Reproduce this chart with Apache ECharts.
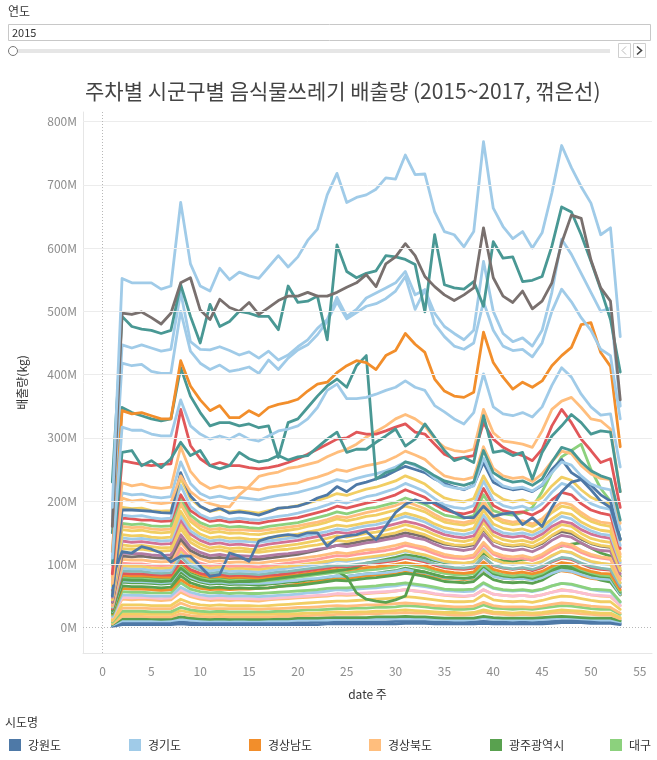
<!DOCTYPE html>
<html><head><meta charset="utf-8">
<script src="https://cdn.jsdelivr.net/npm/echarts@6/dist/echarts.min.js"></script>
<style>html,body{margin:0;padding:0;background:#fff}#c{width:657px;height:760px}</style>
</head><body><div id="c"></div>
<script>
const FONT = "'Noto Sans CJK KR','Noto Sans',sans-serif";
const titleText = '주차별 시군구별 음식물쓰레기 배출량 (2015~2017, 꺾은선)';
const weeks = [1,2,3,4,5,6,7,8,9,10,11,12,13,14,15,16,17,18,19,20,21,22,23,24,25,26,27,28,29,30,31,32,33,34,35,36,37,38,39,40,41,42,43,44,45,46,47,48,49,50,51,52,53];
const xTickLabels = [0,5,10,15,20,25,30,35,40,45,50,55];
const yTickLabels = [0,100,200,300,400,500,600,700,800];
const legendNames = ['강원도','경기도','경상남도','경상북도','광주광역시','대구'];
const legendColors = ['#4e79a7','#a0cbe8','#f28e2b','#ffbe7d','#59a14f','#8cd17d'];

// values in millions of kg, weeks 1..53
const gyeonggiTop = [190,552,545,545,545,535,540,672,575,540,532,568,550,562,556,552,570,588,570,586,612,630,684,718,672,680,684,693,711,709,747,716,717,657,626,621,602,626,768,663,634,615,626,600,624,687,762,727,697,671,621,632,460];
const greyTop = [160,497,495,499,490,480,497,545,553,502,487,519,506,500,514,495,506,517,524,524,530,524,524,530,538,545,558,539,575,586,607,588,555,539,526,517,526,537,632,553,524,514,532,504,516,545,608,652,647,581,537,516,360];
const tealTop = [230,492,476,472,470,465,470,542,492,450,511,476,484,500,497,492,492,471,540,514,516,524,455,605,563,553,560,564,588,586,582,574,499,621,542,537,535,547,508,610,584,586,547,549,555,603,665,657,621,579,535,487,404];
const gyeonggi2 = [175,447,442,447,442,437,440,530,452,440,439,444,438,431,436,426,437,423,431,444,455,473,487,522,492,503,521,529,537,545,563,526,534,497,476,465,455,470,579,500,465,452,458,445,470,530,614,590,560,530,500,505,350];
const gyeonggi3 = [170,418,414,416,405,402,402,500,437,418,408,415,405,408,412,402,423,408,426,439,447,463,484,515,488,498,508,512,520,532,555,503,534,480,460,445,440,450,515,470,445,438,440,428,450,500,535,515,490,470,440,430,330];
const gyeonggi4 = [110,317,312,312,306,303,303,360,319,306,298,303,298,306,298,295,303,311,314,319,330,348,375,385,362,362,364,369,375,380,390,380,375,351,341,330,322,340,401,349,338,335,340,333,349,383,411,396,369,349,336,338,254];
const gyeongnam1 = [120,343,338,340,335,330,330,422,382,360,343,351,332,332,343,335,348,353,356,361,374,385,388,403,414,422,419,408,430,438,465,448,435,393,374,366,364,372,467,419,396,377,388,380,390,414,430,443,479,482,435,413,286];
const teal2 = [150,348,340,335,330,327,330,411,366,340,319,324,324,319,322,316,319,269,324,330,348,366,382,393,380,414,430,235,245,250,262,258,250,240,232,228,225,230,280,245,235,230,232,225,235,262,285,280,262,248,240,235,170];
const teal3 = [100,277,280,256,264,253,267,293,272,280,256,251,256,277,267,262,265,272,265,270,272,285,298,309,277,282,282,293,303,314,287,298,322,301,280,264,269,261,335,277,280,272,277,235,277,303,319,337,324,306,311,309,215];
const red1 = [85,264,261,258,256,258,259,345,288,267,256,261,256,256,253,251,253,256,261,267,274,282,290,298,300,309,306,306,311,317,322,309,306,290,274,267,269,272,324,298,285,277,272,264,282,319,345,324,298,280,261,267,190];
const gyeongbuk1 = [70,205,200,202,198,196,198,240,215,203,196,192,191,210,223,239,243,246,252,254,258,262,270,277,282,290,301,310,319,330,337,330,319,298,285,280,278,282,345,308,295,293,290,285,311,345,358,364,348,330,327,314,215];
const gyeongbuk2 = [80,229,224,227,222,220,222,286,247,229,220,224,220,222,220,218,222,224,227,229,234,238,243,250,247,252,256,259,263,270,279,273,266,252,240,236,234,238,286,252,240,236,238,231,243,263,279,275,256,243,236,234,165];
const gyeonggi5 = [75,213,210,211,207,205,207,262,228,212,205,208,204,206,204,202,206,209,211,214,218,222,228,234,231,236,240,243,248,254,262,256,249,236,225,221,219,224,268,236,224,220,222,216,226,245,262,257,240,227,221,218,155];
const busan5 = [66,190,188,189,185,184,185,236,204,191,184,187,183,185,183,181,185,188,190,193,197,201,206,212,209,214,219,222,227,232,240,234,227,215,205,201,199,204,240,213,203,199,202,196,206,224,238,233,218,206,199,196,138];
const gangwon1 = [50,186,186,185,184,182,181,245,208,192,184,189,181,183,181,178,183,189,190,192,197,205,210,223,215,226,230,235,240,248,255,250,245,235,228,222,218,225,261,230,222,218,220,215,225,250,266,245,235,225,210,200,140];
const gyeonggi9 = [62,178,176,177,174,172,173,225,192,179,172,175,171,173,171,170,173,176,178,181,185,189,194,200,197,202,207,210,215,220,228,222,215,204,194,190,188,193,232,202,193,189,192,186,196,214,228,223,208,196,190,187,130];
const red2 = [60,173,172,170,170,168,169,210,185,175,168,170,167,168,166,165,168,170,172,174,178,182,186,192,189,193,197,200,205,210,218,212,206,195,186,182,180,184,220,193,185,182,183,178,186,202,214,210,196,186,181,178,125];
const daegu1 = [58,165,163,164,161,160,161,205,178,166,160,162,159,160,158,157,160,162,164,166,170,174,178,183,180,184,188,190,194,198,205,200,195,186,178,175,173,177,210,185,180,178,182,190,215,245,270,280,290,250,220,200,140];
const gyeongbuk5 = [56,160,158,159,156,155,156,198,172,161,155,157,154,155,154,153,155,157,159,161,164,167,171,176,174,178,182,185,189,193,199,194,188,179,171,168,166,170,200,178,170,167,169,164,172,187,198,194,182,172,167,165,116];
const busan1 = [54,155,153,154,151,150,151,195,168,156,150,152,149,150,148,147,150,152,154,156,160,163,167,172,169,172,176,178,182,186,192,188,183,174,167,164,162,166,196,174,166,163,165,160,168,182,192,189,177,168,163,160,112];
const busan2 = [52,147,145,146,143,142,143,184,159,148,142,144,141,142,140,139,142,144,146,148,151,154,158,162,160,163,166,168,172,176,181,177,172,164,158,155,153,157,186,164,157,154,156,151,159,172,182,179,167,159,154,152,106];
const gyeonggi10 = [50,142,140,141,139,137,138,177,153,143,137,139,136,137,136,135,137,139,141,143,146,149,152,156,154,158,161,163,167,171,176,172,167,159,152,149,147,151,178,157,150,148,150,146,153,166,176,172,161,153,148,146,103];
const jeju1 = [48,137,135,136,134,132,133,170,148,138,132,134,131,132,130,129,132,134,136,138,141,144,147,151,149,152,155,157,160,164,168,165,160,153,147,144,142,145,172,152,145,143,145,140,148,160,168,165,155,148,144,141,99];
const busan3 = [46,131,129,130,128,126,127,163,141,132,126,128,125,126,124,123,126,128,130,132,135,138,141,145,143,146,149,151,154,158,163,159,154,147,141,138,136,140,166,146,139,136,138,134,142,154,163,160,149,141,137,135,94];
const busan6 = [44,125,124,124,122,121,122,156,135,126,121,123,120,121,120,119,121,123,124,126,129,131,134,138,136,139,142,144,147,150,155,151,147,140,134,131,130,133,157,138,132,130,132,128,135,146,155,152,142,134,130,128,90];
const chungbuk1 = [41,118,117,117,115,114,115,147,127,119,114,116,113,114,113,112,114,116,117,119,121,124,126,130,128,131,134,136,139,142,146,142,139,132,126,124,122,125,148,130,124,122,124,120,127,138,146,143,134,126,122,121,85];
const jeonnam2 = [40,113,112,113,111,110,110,140,122,114,110,111,109,110,108,108,110,112,114,116,119,122,126,130,132,135,138,140,143,146,150,147,143,137,132,130,128,131,155,137,131,129,131,127,133,145,152,149,140,133,129,127,90];
const gyeongbuk6 = [38,108,107,107,105,104,105,135,117,109,104,106,103,104,103,102,104,106,107,109,111,113,116,119,117,120,123,124,127,130,134,130,127,121,116,113,112,115,135,119,114,112,114,110,116,126,134,131,122,116,112,110,78];
const incheon1 = [36,102,101,101,99,98,99,126,110,102,98,100,97,98,97,96,98,100,102,104,106,108,111,114,113,116,118,120,122,125,130,127,123,117,112,110,109,111,131,116,110,108,110,106,112,122,130,127,119,113,110,108,76];
const busan7 = [34,98,97,97,95,94,95,122,106,99,94,96,93,94,93,92,94,96,97,99,101,103,105,108,107,109,111,113,115,118,122,118,115,110,105,103,102,104,122,108,103,101,103,100,105,114,121,119,111,105,102,100,71];
const gyeonggi6 = [33,94,93,93,91,90,91,118,102,94,90,92,89,90,89,88,90,92,94,96,98,100,103,106,105,107,110,111,114,117,121,118,114,108,104,102,101,103,124,108,102,100,102,98,104,113,121,118,110,104,101,100,70];
const sejong1 = [32,90,89,89,87,86,87,112,97,91,86,88,85,86,85,84,86,88,89,91,93,95,97,99,98,100,102,104,106,108,112,109,106,101,97,95,94,96,112,99,95,93,95,92,97,105,111,109,102,97,94,92,65];
const red3 = [30,86,85,85,84,83,83,105,92,86,83,84,82,83,82,81,83,84,86,88,90,92,94,97,96,98,100,102,104,106,110,107,104,99,95,93,92,94,112,98,94,92,94,90,95,104,110,108,101,95,92,91,64];
const gyeongnam3 = [29,83,82,82,81,80,80,103,90,84,80,81,79,80,79,78,80,81,83,84,86,88,90,92,91,93,95,96,98,100,103,100,98,93,89,87,86,88,104,92,88,86,88,85,89,97,103,101,94,89,86,85,60];
const daegu2 = [28,78,77,77,76,75,76,96,84,78,75,76,74,75,74,73,75,76,78,80,82,84,86,88,87,89,91,92,94,96,100,97,94,89,86,84,83,85,100,88,84,82,84,81,86,95,102,100,92,87,83,82,58];
const gyeonggi11 = [26,74,73,73,72,71,72,92,80,74,71,72,70,71,70,70,71,72,74,75,77,78,80,82,81,83,85,86,87,89,92,89,87,83,79,78,77,79,92,81,78,77,78,75,79,86,91,89,84,79,77,76,53];
const gwangju1 = [25,72,71,71,70,69,70,88,77,72,69,70,68,69,68,67,69,70,72,73,75,77,79,82,81,83,85,86,88,90,94,91,88,83,80,78,77,79,95,83,79,77,79,76,80,88,95,93,86,81,78,77,54];
const gwangju2 = [28,80,79,79,78,77,78,98,86,80,77,78,76,77,76,75,77,78,80,82,84,86,88,90,80,55,45,42,40,44,50,90,88,84,80,79,78,80,98,86,82,80,81,78,83,92,98,96,89,84,81,80,56];
const gwangju3 = [23,66,65,65,64,63,64,82,71,66,63,64,62,63,62,62,63,65,66,67,69,71,73,75,74,76,78,79,81,83,86,84,81,77,73,72,71,73,86,76,72,71,72,70,75,84,92,96,90,82,75,72,52];
const gwangju4 = [27,76,75,75,74,73,74,94,82,76,73,74,72,73,73,74,76,78,80,82,84,86,88,90,92,95,102,105,108,111,115,113,110,106,103,102,101,104,118,108,106,105,108,108,114,124,129,132,134,126,118,113,81];
const gyeongnam2 = [22,62,61,61,60,59,60,76,66,62,60,61,60,61,61,62,63,65,67,69,71,73,75,77,78,80,82,83,84,85,88,86,84,80,78,77,76,78,92,82,78,77,78,76,80,86,90,88,82,78,76,75,52];
const daegu4 = [20,57,56,56,55,55,55,71,61,57,55,56,54,55,54,54,55,56,57,58,59,60,62,63,63,64,65,66,68,69,71,69,67,64,61,60,60,61,71,63,60,59,60,58,61,66,70,69,65,61,60,59,41];
const gyeonggi7 = [18,52,51,51,50,50,50,64,56,52,50,51,50,50,50,49,50,51,52,53,55,56,58,60,59,61,62,63,65,66,69,67,65,62,59,58,57,58,70,62,59,58,59,57,60,66,70,68,64,60,58,57,40];
const chungnam1 = [17,48,47,48,47,46,47,60,52,48,46,47,46,46,46,45,46,47,48,49,50,51,52,54,53,54,55,56,57,58,60,58,57,54,52,51,50,51,60,53,51,50,51,49,52,56,59,58,55,52,51,50,35];
const gyeongbuk4 = [16,45,44,45,44,43,44,56,49,45,43,44,43,44,43,42,44,45,46,47,48,49,50,52,51,52,54,55,56,58,60,58,56,53,51,50,49,51,60,53,51,50,51,49,52,56,60,58,55,52,50,49,35];
const busan4 = [13,36,36,36,35,35,35,45,39,36,35,36,35,35,35,34,35,36,37,38,39,40,41,42,42,43,44,45,46,47,49,48,46,44,42,41,41,42,52,44,42,41,42,40,43,47,50,49,46,43,41,41,29];
const gyeongbuk7 = [11,31,31,31,30,30,30,39,33,31,30,30,30,30,30,29,30,30,31,32,32,33,34,35,34,35,36,36,37,38,39,38,37,35,34,33,33,34,40,35,33,33,33,32,34,37,39,38,36,34,33,32,23];
const daegu3 = [9,26,26,26,25,25,25,32,28,26,25,26,25,25,25,25,25,26,26,27,28,28,29,30,30,31,31,32,32,33,35,34,33,31,30,29,29,30,36,31,30,29,30,29,31,33,35,34,32,30,29,29,21];
const busan8 = [8,22,22,22,21,21,21,27,24,22,21,22,21,21,21,21,21,22,22,22,23,23,24,25,24,25,25,26,26,27,28,27,26,25,24,24,23,24,28,25,24,23,24,23,24,26,28,27,26,24,23,23,16];
const gyeongbuk3 = [6,18,18,18,17,17,17,22,19,18,17,18,17,17,17,17,17,18,18,19,19,20,20,21,21,21,22,22,23,23,24,23,23,22,21,20,20,21,25,22,21,20,21,20,21,23,24,24,22,21,20,20,14];
const gwangju5 = [5,14,14,14,14,13,14,17,15,14,13,14,13,14,13,13,14,14,14,15,15,15,16,16,16,16,16,17,17,17,18,17,17,16,15,15,15,15,18,16,15,15,15,15,16,17,18,17,16,15,15,15,11];
const gyeonggi8 = [4,11,11,11,11,11,11,13,12,11,11,11,11,11,11,11,11,11,11,12,12,12,12,13,13,13,13,13,14,14,14,14,14,13,13,12,12,13,15,13,13,12,13,12,13,14,15,15,14,13,12,12,9];
const gangwon4 = [3,8,8,8,8,8,8,9,8,8,8,8,8,8,8,8,8,8,8,8,8,9,9,9,9,9,9,9,9,10,10,10,10,9,9,9,9,9,10,9,9,9,9,9,9,10,11,11,11,11,10,10,7];
const gangwon3 = [2,5,5,5,5,5,5,6,5,5,5,5,5,5,5,5,5,5,5,5,5,5,6,6,6,6,6,6,6,6,7,7,7,6,6,6,6,6,7,6,6,6,6,6,6,7,8,8,8,7,7,7,5];
const gangwon2 = [80,120,118,128,124,118,104,113,113,97,81,84,118,113,105,137,142,145,147,145,150,150,129,142,145,147,152,139,160,182,195,202,197,198,190,182,174,174,192,176,180,182,163,174,160,190,215,230,234,218,200,190,139];

const C = {gangwon:'#4e79a7', gyeonggi:'#a0cbe8', gyeongnam:'#f28e2b', gyeongbuk:'#ffbe7d', gwangju:'#59a14f', daegu:'#8cd17d', busan:'#f1ce63', seoul:'#499894', sejong:'#86bcb6', ulsan:'#e15759', incheon:'#ff9d9a', jeonnam:'#79706e', jeju:'#d37295', chungnam:'#fabfd2', chungbuk:'#b07aa1'};

const defs = [
  ['강원도', C.gangwon, gangwon3],
  ['강원도', C.gangwon, gangwon4],
  ['경기도', C.gyeonggi, gyeonggi8],
  ['광주광역시', C.gwangju, gwangju5],
  ['경상북도', C.gyeongbuk, gyeongbuk3],
  ['부산광역시', C.busan, busan8],
  ['대구광역시', C.daegu, daegu3],
  ['경상북도', C.gyeongbuk, gyeongbuk7],
  ['부산광역시', C.busan, busan4],
  ['경상북도', C.gyeongbuk, gyeongbuk4],
  ['충청남도', C.chungnam, chungnam1],
  ['경기도', C.gyeonggi, gyeonggi7],
  ['대구광역시', C.daegu, daegu4],
  ['경상남도', C.gyeongnam, gyeongnam2],
  ['광주광역시', C.gwangju, gwangju3],
  ['광주광역시', C.gwangju, gwangju1],
  ['경기도', C.gyeonggi, gyeonggi11],
  ['광주광역시', C.gwangju, gwangju2],
  ['대구광역시', C.daegu, daegu2],
  ['경상남도', C.gyeongnam, gyeongnam3],
  ['광주광역시', C.gwangju, gwangju4],
  ['울산광역시', C.ulsan, red3],
  ['세종특별자치시', C.sejong, sejong1],
  ['경기도', C.gyeonggi, gyeonggi6],
  ['부산광역시', C.busan, busan7],
  ['인천광역시', C.incheon, incheon1],
  ['경상북도', C.gyeongbuk, gyeongbuk6],
  ['전라남도', C.jeonnam, jeonnam2],
  ['충청북도', C.chungbuk, chungbuk1],
  ['부산광역시', C.busan, busan6],
  ['부산광역시', C.busan, busan3],
  ['제주특별자치도', C.jeju, jeju1],
  ['경기도', C.gyeonggi, gyeonggi10],
  ['부산광역시', C.busan, busan2],
  ['부산광역시', C.busan, busan1],
  ['경상북도', C.gyeongbuk, gyeongbuk5],
  ['대구광역시', C.daegu, daegu1],
  ['울산광역시', C.ulsan, red2],
  ['경기도', C.gyeonggi, gyeonggi9],
  ['부산광역시', C.busan, busan5],
  ['강원도', C.gangwon, gangwon2],
  ['강원도', C.gangwon, gangwon1],
  ['경기도', C.gyeonggi, gyeonggi5],
  ['경상북도', C.gyeongbuk, gyeongbuk2],
  ['경상북도', C.gyeongbuk, gyeongbuk1],
  ['울산광역시', C.ulsan, red1],
  ['서울특별시', C.seoul, teal3],
  ['서울특별시', C.seoul, teal2],
  ['경상남도', C.gyeongnam, gyeongnam1],
  ['경기도', C.gyeonggi, gyeonggi4],
  ['경기도', C.gyeonggi, gyeonggi3],
  ['경기도', C.gyeonggi, gyeonggi2],
  ['서울특별시', C.seoul, tealTop],
  ['전라남도', C.jeonnam, greyTop],
  ['경기도', C.gyeonggi, gyeonggiTop]
];

const gridLines = yTickLabels.map(v => ({
  yAxis: v,
  lineStyle: v === 0 ? {color:'#b8b8b8', type:[1,2], width:1} : {color:'#ececec', type:'solid', width:1}
}));
gridLines.push({xAxis: 0, lineStyle:{color:'#b8b8b8', type:[1,2], width:1}});

const series = defs.map((d, i) => {
  const s = {
    name: d[0], type:'line', symbol:'none', silent:true,
    data: weeks.map((w, k) => [w, d[2][k]]),
    lineStyle:{color:d[1], width:2.8, join:'round', cap:'round'},
    itemStyle:{color:d[1]},
    emphasis:{disabled:true}
  };
  if (i === 0) {
    s.markLine = {silent:true, symbol:['none','none'], label:{show:false}, animation:false, data: gridLines};
  }
  return s;
});

const graphics = [
  {type:'text', x:8, y:5, style:{text:'연도', font:'12px '+FONT, fill:'#333'}},
  {type:'rect', shape:{x:8.5, y:24.5, width:642, height:16}, style:{fill:'#fff', stroke:'#c8c8c8', lineWidth:1}},
  {type:'text', x:12, y:27, style:{text:'2015', font:'11px '+FONT, fill:'#333'}},
  {type:'rect', shape:{x:18, y:49, width:592, height:4}, style:{fill:'#e6e6e6'}},
  {type:'circle', shape:{cx:13, cy:51, r:4.5}, style:{fill:'#fff', stroke:'#777', lineWidth:1}},
  {type:'rect', shape:{x:618.5, y:43.5, width:12, height:14}, style:{fill:'#fff', stroke:'#cfcfcf', lineWidth:1}},
  {type:'polyline', shape:{points:[[626,46.5],[622,50.5],[626,54.5]]}, style:{stroke:'#bbb', lineWidth:1, fill:null}},
  {type:'rect', shape:{x:633.5, y:43.5, width:12, height:14}, style:{fill:'#fff', stroke:'#cfcfcf', lineWidth:1}},
  {type:'polyline', shape:{points:[[637,46.5],[641.5,50.5],[637,54.5]]}, style:{stroke:'#444', lineWidth:1.6, fill:null}},
  {type:'text', x:5, y:716, style:{text:'시도명', font:'12px '+FONT, fill:'#333'}}
];
const legendX = [9,129,249,369,490,610];
legendNames.forEach((n, i) => {
  graphics.push({type:'rect', shape:{x:legendX[i], y:739, width:12, height:12}, style:{fill:legendColors[i]}});
  graphics.push({type:'text', x:legendX[i]+19, y:745, style:{text:n, font:'12px '+FONT, fill:'#333', verticalAlign:'middle'}});
});

const chart = echarts.init(document.getElementById('c'), null, {renderer:'canvas'});
chart.setOption({
  animation:false,
  backgroundColor:'#fff',
  textStyle:{fontFamily:FONT},
  title:{text:titleText, left:80, top:76, textStyle:{fontSize:21, fontWeight:'normal', color:'#444', fontFamily:FONT}},
  grid:{left:83, right:5, top:112, bottom:107, containLabel:false},
  xAxis:{
    type:'value', min:-2, max:56.25, interval:1,
    name:'date 주', nameLocation:'middle', nameGap:35,
    nameTextStyle:{fontSize:12, color:'#333', fontFamily:FONT},
    axisLine:{show:true, onZero:false, lineStyle:{color:'#e6e6e6'}},
    axisTick:{show:false},
    splitLine:{show:false},
    axisLabel:{margin:12, fontSize:12, color:'#8c8c8c', fontFamily:FONT,
      formatter: v => xTickLabels.indexOf(v) >= 0 ? String(v) : ''}
  },
  yAxis:{
    type:'value', min:-40, max:815, interval:10,
    name:'배출량(kg)', nameLocation:'middle', nameGap:55,
    nameTextStyle:{fontSize:12, color:'#333', fontFamily:FONT},
    axisLine:{show:true, onZero:false, lineStyle:{color:'#e6e6e6'}},
    axisTick:{show:false},
    splitLine:{show:false},
    axisLabel:{margin:6, fontSize:12, color:'#8c8c8c', fontFamily:FONT,
      formatter: v => yTickLabels.indexOf(v) >= 0 ? v + 'M' : ''}
  },
  graphic: graphics,
  series: series
});
</script>
</body></html>
